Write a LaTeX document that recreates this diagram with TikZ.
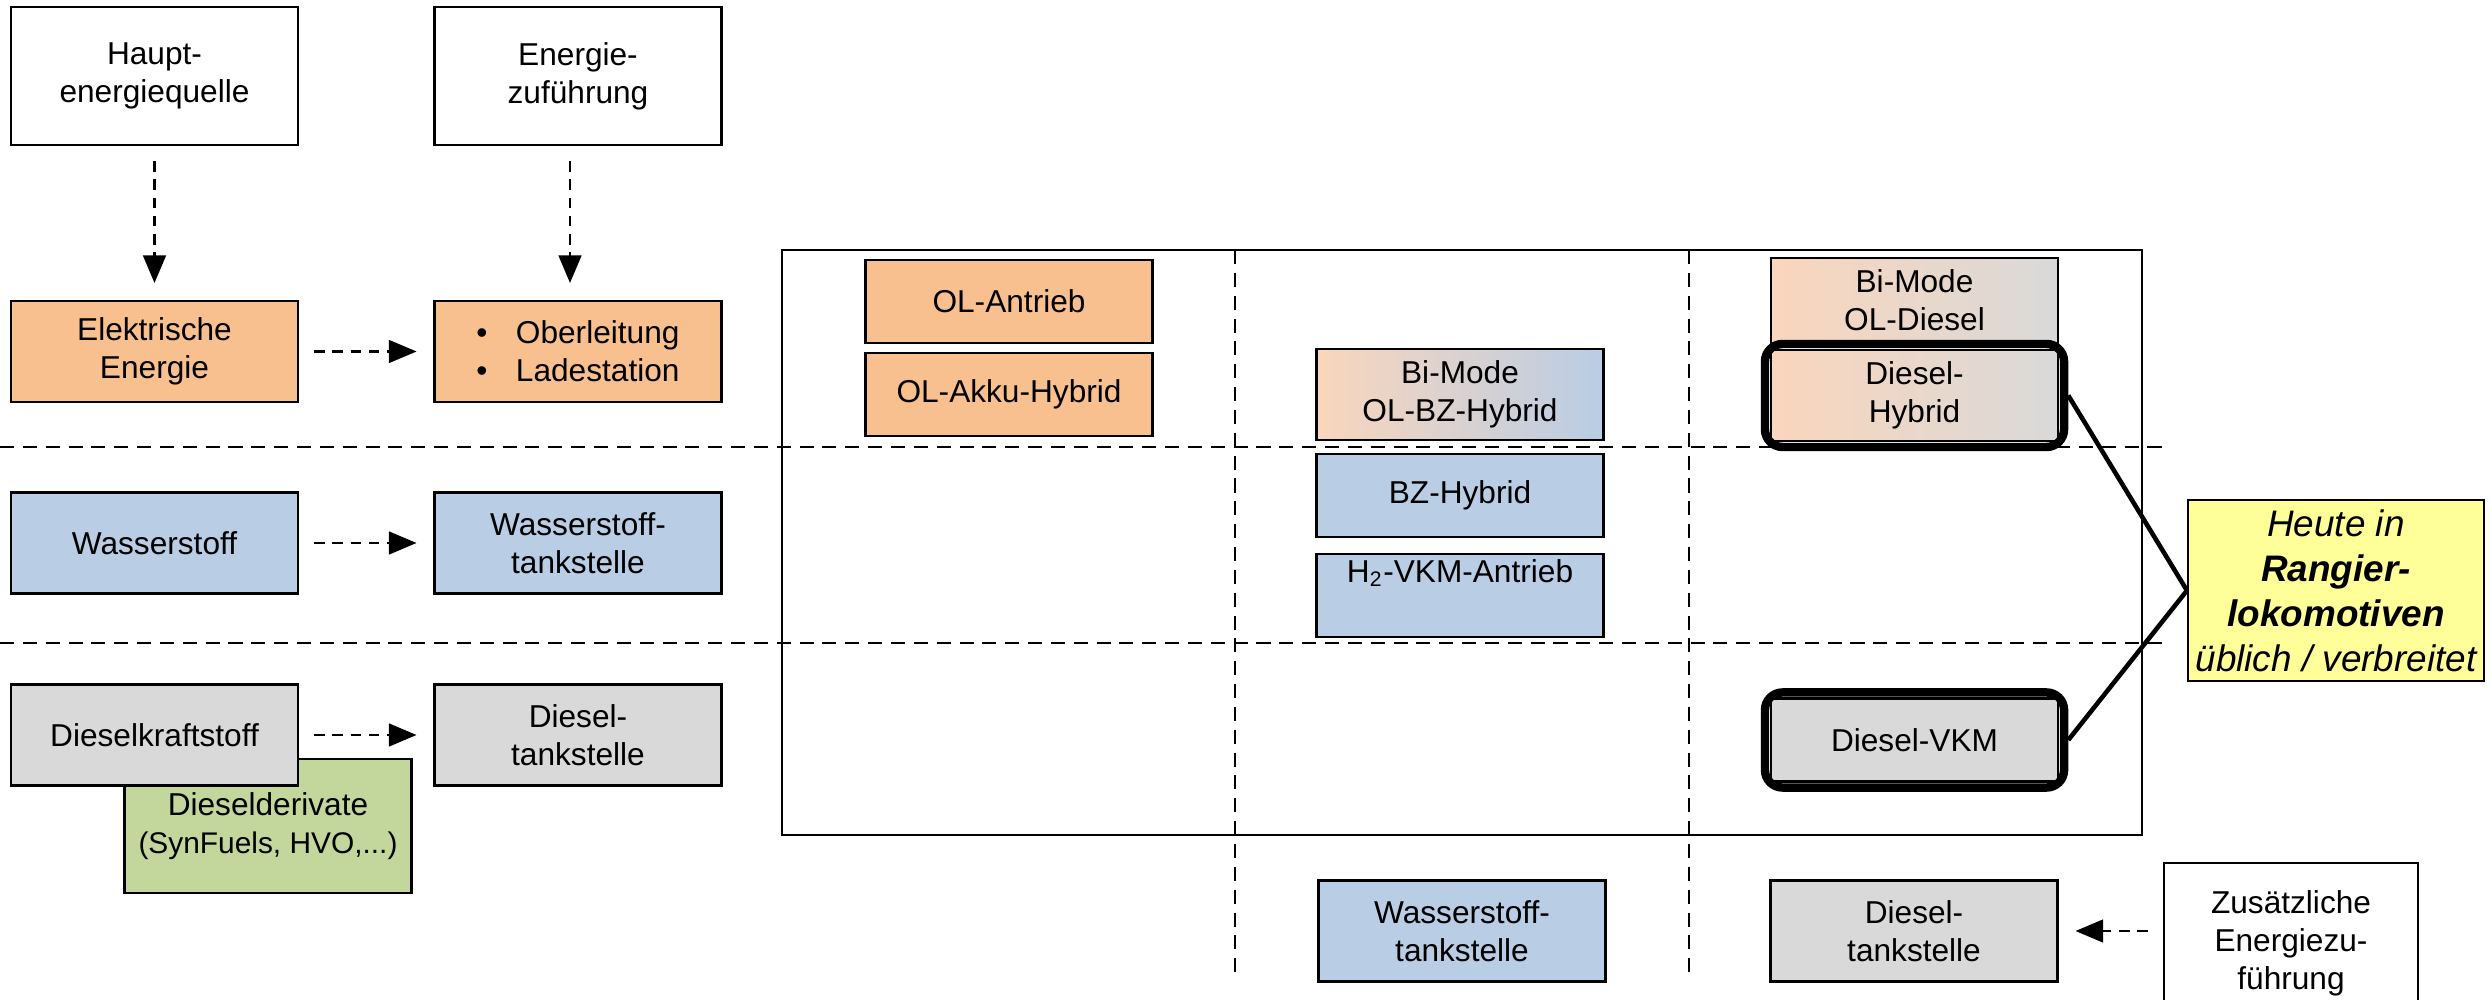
\documentclass[tikz,border=0pt]{standalone}
\usepackage{fontspec}
\setmainfont{Liberation Sans}
\usetikzlibrary{shapes.geometric, arrows, fit}

\definecolor{elec}{HTML}{F9C08F}
\definecolor{elecpale}{HTML}{FAD6BC}
\definecolor{hydro}{HTML}{B9CDE5}
\definecolor{fuel}{HTML}{D9D9D9}
\definecolor{deriv}{HTML}{C3D69B}
\definecolor{notefill}{HTML}{FFFF99}

\tikzstyle{head} = [rectangle, minimum width=2.87cm, minimum height=1.38cm, text centered, align=center, draw=black, fill=white]
\tikzstyle{carrier} = [rectangle, minimum width=2.87cm, minimum height=1.01cm, text centered, align=center, draw=black]
\tikzstyle{drive} = [rectangle, minimum width=2.87cm, minimum height=0.83cm, text centered, align=center, draw=black]
\tikzstyle{ring} = [rectangle, rounded corners=5pt, line width=2.4pt, draw=black, inner sep=0.05cm]
\tikzstyle{arrow} = [line width=0.8pt, dash pattern=on 3pt off 2.2pt, ->, >=triangle 45, shorten <=0.15cm, shorten >=0.17cm]
\tikzstyle{divider} = [line width=0.6pt, dash pattern=on 4pt off 2.5pt]
\tikzstyle{link} = [line width=1.3pt]

\begin{document}
\begin{tikzpicture}[font=\fontsize{9}{10.8}\selectfont, line width=0.6pt]
        \useasboundingbox (0,0) rectangle (24.92,-10);

        % frame and grid lines
        \draw (7.82,-2.5) rectangle (21.42,-8.35);
        \draw [divider] (0,-4.47) -- (21.65,-4.47);
        \draw [divider] (0,-6.43) -- (21.65,-6.43);
        \draw [divider] (12.35,-2.5) -- (12.35,-9.8);
        \draw [divider] (16.89,-2.5) -- (16.89,-9.8);

        \node (haupt) [head] at (1.545,-0.76) {Haupt-\\energiequelle};
        \node (zufuehr) [head] at (5.78,-0.76) {Energie-\\zuführung};
        \node (elek) [carrier, fill=elec] at (1.545,-3.515) {Elektrische\\Energie};
        \node (oberl) [carrier, fill=elec, align=left] at (5.78,-3.515) {\textbullet\hspace{0.9em}Oberleitung\\\textbullet\hspace{0.9em}Ladestation};
        \node (wasser) [carrier, fill=hydro] at (1.545,-5.43) {Wasserstoff};
        \node (wtank) [carrier, fill=hydro] at (5.78,-5.43) {Wasserstoff-\\tankstelle};
        \node (derivat) [carrier, fill=deriv, minimum height=1.34cm] at (2.68,-8.26) {Dieselderivate\\{\fontsize{8.5}{10}\selectfont(SynFuels, HVO,...)}};
        \node (diesel) [carrier, fill=fuel] at (1.545,-7.35) {Dieselkraftstoff};
        \node (dtank) [carrier, fill=fuel] at (5.78,-7.35) {Diesel-\\tankstelle};

        \node (olan) [drive, fill=elec] at (10.09,-3.015) {OL-Antrieb};
        \node (olakku) [drive, fill=elec] at (10.09,-3.945) {OL-Akku-Hybrid};
        \node (bmbz) [drive, left color=elecpale, right color=hydro] at (14.6,-3.945) {Bi-Mode\\OL-BZ-Hybrid};
        \node (bzhyb) [drive, fill=hydro] at (14.6,-4.955) {BZ-Hybrid};
        \node (h2vkm) [drive, fill=hydro, inner ysep=0pt] at (14.6,-5.955) {H\textsubscript{2}-VKM-Antrieb\\\strut};
        \node (bmdiesel) [drive, left color=elecpale, right color=fuel] at (19.145,-3.005) {Bi-Mode\\OL-Diesel};
        \node (dhyb) [drive, left color=elecpale, right color=fuel] at (19.145,-3.955) {Diesel-\\Hybrid};
        \node (dvkm) [drive, fill=fuel] at (19.145,-7.40) {Diesel-VKM};
        \node (dhybring) [ring, fit=(dhyb)] {};
        \node (dvkmring) [ring, fit=(dvkm)] {};

        \node (wtank2) [carrier, fill=hydro] at (14.62,-9.31) {Wasserstoff-\\tankstelle};
        \node (dtank2) [carrier, fill=fuel] at (19.14,-9.31) {Diesel-\\tankstelle};
        \node (zusatz) [carrier, fill=white, minimum width=2.54cm, minimum height=1.6cm] at (22.91,-9.43) {Zusätzliche\\Energiezu-\\führung};

        \node (note) [rectangle, draw=black, fill=notefill, minimum width=2.96cm, minimum height=1.81cm, inner sep=1pt, align=center, font=\fontsize{10.5}{12.8}\selectfont\itshape] at (23.36,-5.905) {Heute in\\\textbf{Rangier-}\\\textbf{lokomotiven}\\üblich / verbreitet};

        \draw [arrow] (haupt) -- (elek);
        \draw [arrow] ([xshift=-0.08cm]zufuehr.south) -- ([xshift=-0.08cm]oberl.north);
        \draw [arrow] (elek) -- (oberl);
        \draw [arrow] (wasser) -- (wtank);
        \draw [arrow] (diesel) -- (dtank);
        \draw [arrow] (zusatz.west |- dtank2) -- (dtank2);
        \draw [link] (dhybring.east) -- (note.west);
        \draw [link] (dvkmring.east) -- (note.west);
    \end{tikzpicture}
\end{document}
